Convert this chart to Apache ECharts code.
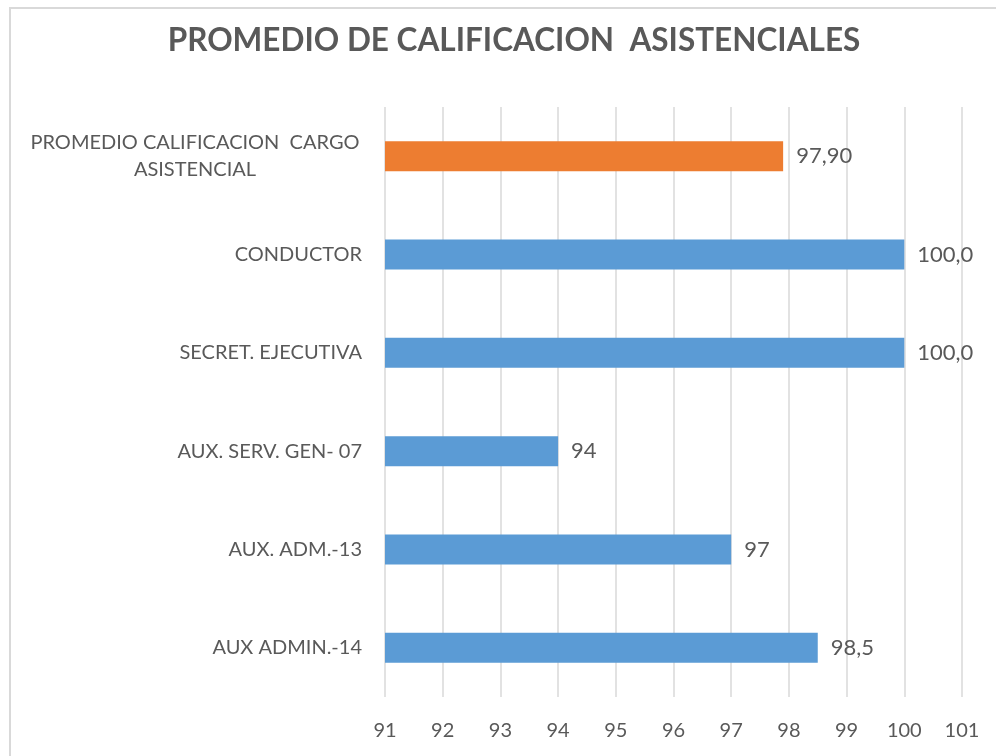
<!DOCTYPE html>
<html>
<head>
<meta charset="utf-8">
<script src="https://cdn.jsdelivr.net/npm/echarts@6/dist/echarts.min.js"></script>
<style>
  html, body { margin: 0; padding: 0; background: #fff; }
  #main { width: 996px; height: 756px; }
</style>
</head>
<body>
<div id="main"></div>
<script>
// categories listed bottom to top (category axis starts at the bottom)
var categories = [
  'AUX ADMIN.-14',
  'AUX. ADM.-13',
  'AUX. SERV. GEN- 07',
  'SECRET. EJECUTIVA',
  'CONDUCTOR',
  'PROMEDIO CALIFICACION  CARGO\nASISTENCIAL'
];
var values = [98.5, 97, 94, 100, 100, 97.9];
var valueLabels = ['98,5', '97', '94', '100,0', '100,0', '97,90'];
var barColors = ['#5B9BD5', '#5B9BD5', '#5B9BD5', '#5B9BD5', '#5B9BD5', '#ED7D31'];
var xTicks = [91, 92, 93, 94, 95, 96, 97, 98, 99, 100, 101];

var textColor = '#595959';
var fontName = 'Lato';

var chart = echarts.init(document.getElementById('main'));

var option = {
  backgroundColor: '#fff',
  animation: false,
  title: {
    text: 'PROMEDIO DE CALIFICACION  ASISTENCIALES',
    left: 509,
    textAlign: 'center',
    top: 20,
    textStyle: {
      color: textColor,
      fontFamily: fontName,
      fontWeight: 'bold',
      fontSize: 31.5
    }
  },
  graphic: [{
    type: 'rect',
    shape: { x: 10, y: 8, width: 1000, height: 1000 },
    style: { fill: 'none', stroke: '#d9d9d9', lineWidth: 2 },
    silent: true
  }],
  grid: {
    left: 385,
    right: 34,
    top: 107,
    bottom: 59,
    containLabel: false
  },
  xAxis: {
    type: 'value',
    min: xTicks[0],
    max: xTicks[xTicks.length - 1],
    interval: 1,
    axisLine: { show: false },
    axisTick: { show: false },
    splitLine: { show: true, lineStyle: { color: '#d9d9d9', width: 1.5 } },
    axisLabel: {
      color: textColor,
      fontFamily: fontName,
      fontSize: 20,
      margin: 24
    }
  },
  yAxis: {
    type: 'category',
    data: categories,
    axisLine: { show: false },
    axisTick: { show: false },
    axisLabel: {
      color: textColor,
      fontFamily: fontName,
      fontSize: 20,
      margin: 23,
      formatter: function (v) {
        if (v.indexOf('\n') >= 0) {
          return v.split('\n').map(function (s) { return '{c|' + s + '}'; }).join('\n');
        }
        return v;
      },
      rich: {
        c: {
          color: textColor,
          fontFamily: fontName,
          fontSize: 20,
          width: 334,
          align: 'center',
          lineHeight: 27
        }
      }
    }
  },
  series: [{
    type: 'bar',
    barCategoryGap: '69.5%',
    data: values.map(function (v, i) {
      return { value: v, itemStyle: { color: barColors[i] } };
    }),
    label: {
      show: true,
      position: 'right',
      distance: 13,
      color: textColor,
      fontFamily: fontName,
      fontSize: 22,
      formatter: function (p) { return valueLabels[p.dataIndex]; }
    }
  }]
};

chart.setOption(option);
</script>
</body>
</html>
